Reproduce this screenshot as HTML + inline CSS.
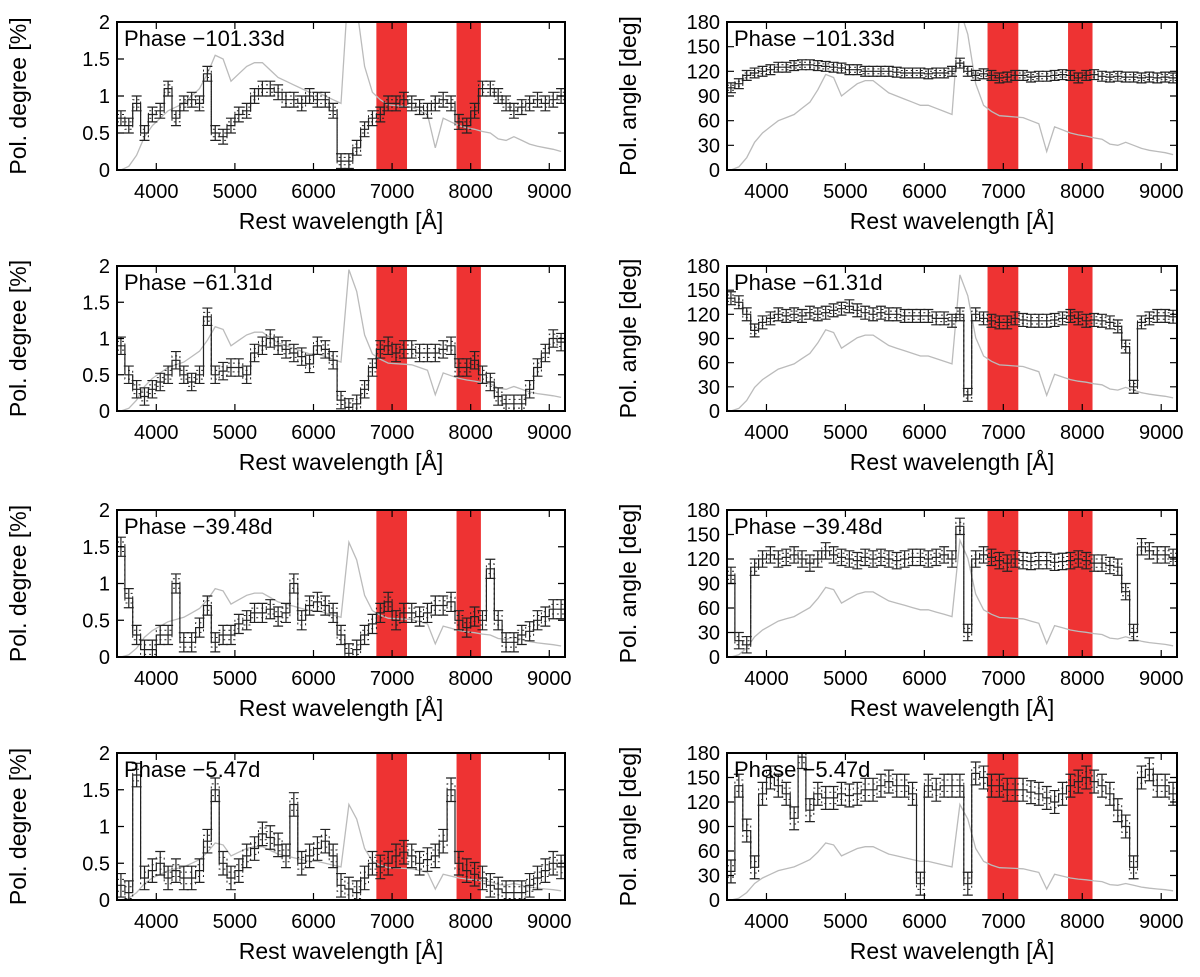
<!DOCTYPE html>
<html><head><meta charset="utf-8"><style>
body{margin:0;background:#fff}
svg{display:block;font-family:"Liberation Sans",sans-serif}
</style></head><body>
<svg id="c" width="1200" height="977" viewBox="0 0 1200 977" xmlns="http://www.w3.org/2000/svg"></svg>
<script>
const wavelengths=[3550,3650,3750,3850,3950,4050,4150,4250,4350,4450,4550,4650,4750,4850,4950,5050,5150,5250,5350,5450,5550,5650,5750,5850,5950,6050,6150,6250,6350,6450,6550,6650,6750,6850,6950,7050,7150,7250,7350,7450,7550,7650,7750,7850,7950,8050,8150,8250,8350,8450,8550,8650,8750,8850,8950,9050,9150];
const phases=["Phase \u2212101.33d","Phase \u221261.31d","Phase \u221239.48d","Phase \u22125.47d"];
const polDeg1=[0.7,0.6,0.9,0.5,0.75,0.8,1.1,0.7,0.9,0.95,0.9,1.3,0.5,0.45,0.6,0.75,0.8,1.0,1.1,1.1,1.05,0.95,0.95,0.9,1.0,0.95,0.95,0.8,0.12,0.12,0.3,0.55,0.7,0.75,0.9,0.9,0.95,0.9,0.85,0.8,0.9,0.95,0.9,0.65,0.6,0.8,1.1,1.1,1.0,0.9,0.8,0.85,0.9,0.95,0.9,0.95,1.0];
const polDeg2=[0.9,0.5,0.3,0.2,0.3,0.4,0.5,0.7,0.5,0.4,0.5,1.3,0.5,0.55,0.6,0.6,0.5,0.8,0.9,1.0,0.9,0.85,0.8,0.75,0.65,0.9,0.85,0.7,0.15,0.05,0.1,0.3,0.6,0.85,0.9,0.8,0.85,0.85,0.8,0.8,0.8,0.85,0.9,0.6,0.6,0.7,0.5,0.4,0.2,0.1,0.1,0.1,0.3,0.6,0.8,1.0,0.95];
const polDeg3=[1.5,0.8,0.3,0.1,0.1,0.3,0.3,1.0,0.2,0.2,0.4,0.7,0.2,0.3,0.3,0.45,0.5,0.6,0.6,0.65,0.55,0.6,1.0,0.5,0.7,0.75,0.7,0.6,0.3,0.05,0.1,0.3,0.45,0.6,0.75,0.5,0.6,0.6,0.55,0.6,0.7,0.7,0.75,0.5,0.4,0.55,0.5,1.2,0.5,0.2,0.2,0.3,0.35,0.5,0.55,0.65,0.65];
const polDeg4=[0.2,0.1,1.7,0.3,0.4,0.5,0.3,0.4,0.3,0.3,0.4,0.8,1.5,0.5,0.3,0.4,0.6,0.7,0.9,0.85,0.75,0.6,1.3,0.5,0.6,0.7,0.8,0.6,0.2,0.15,0.1,0.3,0.5,0.45,0.5,0.6,0.65,0.6,0.5,0.55,0.6,0.8,1.5,0.5,0.4,0.35,0.3,0.2,0.15,0.1,0.1,0.1,0.2,0.3,0.4,0.5,0.45];
const polAng1=[100,105,115,118,120,122,125,125,127,128,128,127,126,125,124,122,122,120,120,120,120,119,118,118,118,117,118,118,120,130,120,115,117,115,112,113,115,115,113,114,114,115,116,115,112,115,116,114,113,114,113,113,112,113,112,113,112];
const polAng2=[140,135,120,100,110,115,120,118,120,118,122,120,122,125,127,130,125,122,120,122,120,120,118,118,118,118,115,115,112,120,20,120,115,112,110,110,115,113,112,112,112,113,115,118,115,112,113,112,110,105,80,30,110,115,118,118,117];
const polAng3=[100,20,15,110,120,125,120,122,125,120,115,120,130,125,122,120,118,122,120,122,120,118,120,122,122,120,122,125,120,160,30,120,125,122,118,115,120,118,117,118,118,116,117,118,120,118,115,115,112,110,80,30,135,130,125,125,122];
const polAng4=[35,140,85,40,130,150,140,130,100,175,110,130,125,125,130,128,130,135,135,140,145,140,140,130,20,140,135,140,140,140,20,155,150,140,140,135,135,135,132,130,125,120,130,140,145,150,145,140,130,110,90,40,150,160,140,140,130];
const errDeg=[0.1,0.12,0.13,0.16];
const errAng=[6,8,10,14];
const fluxShape=[0,0.05,0.2,0.45,0.6,0.7,0.8,0.85,0.9,1.0,1.1,1.3,1.55,1.5,1.2,1.3,1.4,1.45,1.45,1.35,1.25,1.2,1.15,1.1,1.05,1.05,1.0,0.95,0.9,2.6,2.2,1.4,1.05,0.95,0.88,0.87,0.86,0.85,0.8,0.75,0.3,0.7,0.65,0.6,0.57,0.55,0.52,0.5,0.42,0.4,0.45,0.4,0.35,0.32,0.3,0.28,0.25];
const fluxScaleDeg=[1.0,0.75,0.6,0.5];
const fluxScaleAng=[75,65,55,45];
const bands=[[6800,7190],[7820,8130]];
const degTicks=[0,0.5,1,1.5,2];
const angTicks=[0,30,60,90,120,150,180];
const xTicks=[4000,5000,6000,7000,8000,9000];
const polDeg=[polDeg1,polDeg2,polDeg3,polDeg4];
const polAng=[polAng1,polAng2,polAng3,polAng4];

const NS="http://www.w3.org/2000/svg";
const svg=document.getElementById('c');
function mk(tag,attrs,parent,text){const e=document.createElementNS(NS,tag);for(const k in attrs)e.setAttribute(k,attrs[k]);if(text!==undefined)e.textContent=text;(parent||svg).appendChild(e);return e;}
const rowsTop=[22,266,510,753], rowsBot=[170,411,657,900];
const cols=[{x0:117,x1:565,ymax:2,ticks:degTicks,label:"Pol. degree [%]",data:polDeg,err:errDeg,fs:fluxScaleDeg,tag:"degree"},
            {x0:727,x1:1177,ymax:180,ticks:angTicks,label:"Pol. angle [deg]",data:polAng,err:errAng,fs:fluxScaleAng,tag:"angle"}];
const XMIN=3500,XMAX=9200;
cols.forEach((c,ci)=>{
 for(let r=0;r<4;r++){
  const y0=rowsTop[r],y1=rowsBot[r];
  const sx=v=>c.x0+(v-XMIN)/(XMAX-XMIN)*(c.x1-c.x0);
  const sy=v=>y1-(v/c.ymax)*(y1-y0);
  const g=mk('g',{});
  
  
  const clipId='cl'+ci+r;
  const cp=mk('clipPath',{id:clipId},g);mk('rect',{x:c.x0,y:y0,width:c.x1-c.x0,height:y1-y0},cp);
  const inner=mk('g',{'clip-path':'url(#'+clipId+')'},g);
  bands.forEach((b,bi)=>{const e=mk('rect',{x:sx(b[0]),y:y0,width:sx(b[1])-sx(b[0]),height:y1-y0,fill:'#ee3333'},inner);
   
   });
  let fp=wavelengths.map((w,i)=>sx(w).toFixed(1)+','+sy(fluxShape[i]*c.fs[r]).toFixed(1)).join(' ');
  const fl=mk('polyline',{points:fp,fill:'none',stroke:'#bbb','stroke-width':1.3},inner);
  
  
  const d=c.data[r],er=c.err[r];
  [1,-1].forEach(s=>{let p='';wavelengths.forEach((w,i)=>{const v=d[i]+s*er*0.5;p+=(i?'L':'M')+sx(w-50).toFixed(1)+','+sy(v).toFixed(1)+'H'+sx(w+50).toFixed(1);});
   const e=mk('path',{d:p,fill:'none',stroke:'#222','stroke-width':1,'stroke-dasharray':'2,3'},inner);
   
   });
  let sp='';wavelengths.forEach((w,i)=>{sp+=(i?'L':'M')+sx(w-50).toFixed(1)+','+sy(d[i]).toFixed(1)+'H'+sx(w+50).toFixed(1);});
  const st=mk('path',{d:sp,fill:'none',stroke:'#222','stroke-width':1.2},inner);
  
  
  wavelengths.forEach((w,i)=>{const x=sx(w),a=sy(d[i]+er),b=sy(Math.max(0,d[i]-er));
   const e=mk('path',{d:`M${x},${a}V${b}M${x-5},${a}H${x+5}M${x-5},${b}H${x+5}`,stroke:'#222','stroke-width':1.2,fill:'none'},inner);
   
   });
  mk('rect',{x:c.x0,y:y0,width:c.x1-c.x0,height:y1-y0,fill:'none',stroke:'#000','stroke-width':2},g);
  c.ticks.forEach(t=>{const y=sy(t);mk('path',{d:`M${c.x0},${y}h7M${c.x1},${y}h-7`,stroke:'#000','stroke-width':1.2},g);
   const e=mk('text',{x:c.x0-7,y:y+7,'text-anchor':'end','font-size':20},g,String(t));
   
   });
  xTicks.forEach(t=>{const x=sx(t);mk('path',{d:`M${x},${y1}v-7M${x},${y0}v7`,stroke:'#000','stroke-width':1.2},g);
   const e=mk('text',{x:x,y:y1+28,'text-anchor':'middle','font-size':20},g,String(t));
   
   });
  const xl=mk('text',{x:(c.x0+c.x1)/2,y:y1+59,'text-anchor':'middle','font-size':23},g,"Rest wavelength [\u00c5]");
  
  
  const yc=(y0+y1)/2, lx=c.x0-91;
  const yl=mk('text',{x:lx,y:yc,'text-anchor':'middle','font-size':23,transform:`rotate(-90 ${lx} ${yc})`},g,c.label);
  
  
  const pl=mk('text',{x:c.x0+7,y:y0+24,'font-size':22},g,phases[r]);
  
  
 }
});
</script>
</body></html>
